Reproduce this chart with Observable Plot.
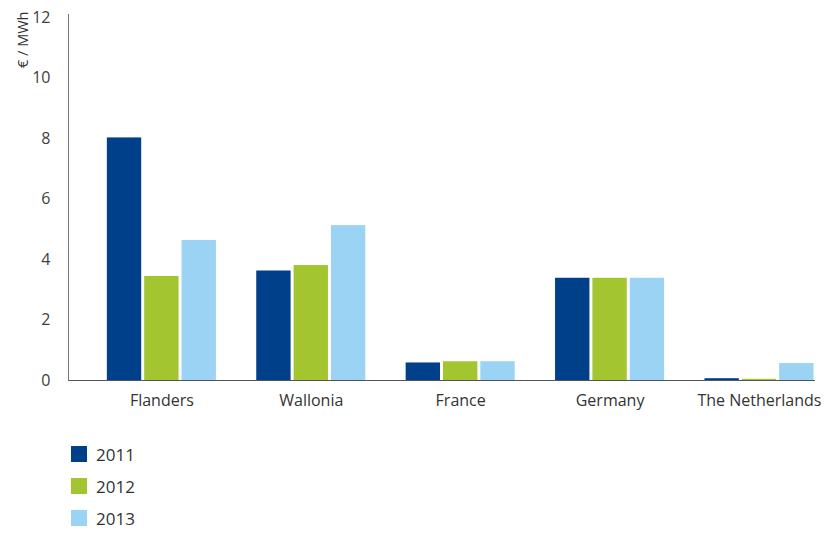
<!DOCTYPE html>
<html>
<head>
<meta charset="utf-8">
<script src="https://cdn.jsdelivr.net/npm/d3@7"></script>
<script src="https://cdn.jsdelivr.net/npm/@observablehq/plot@0.6"></script>
<style>
  body { margin: 0; background: #fff; font-family: "Open Sans", sans-serif; }
  #chart svg { display: block; }
  .legend { margin-top: 13px; padding-left: 71px; }
  .legend .row { display: flex; align-items: center; height: 32px; font-size: 17px; color: #333; }
  .legend .sw { width: 16px; height: 16px; margin-right: 9px; }
</style>
</head>
<body>
<div id="chart"></div>
<script>
const countries = ["Flanders", "Wallonia", "France", "Germany", "The Netherlands"];
const years = ["2011", "2012", "2013"];
const values2011 = [8.02, 3.62, 0.58, 3.38, 0.06];
const values2012 = [3.44, 3.80, 0.62, 3.38, 0.04];
const values2013 = [4.63, 5.12, 0.62, 3.38, 0.56];
const yTicks = [0, 2, 4, 6, 8, 10, 12];
const colors = ["#003f8a", "#a2c530", "#9bd3f4"];
const yLabel = "€ / MWh";

const seriesValues = [values2011, values2012, values2013];
const data = [];
countries.forEach((c, i) => {
  years.forEach((y, j) => {
    data.push({country: c, year: y, slot: c + "|" + y, value: seriesValues[j][i]});
  });
});
// one empty slot before each group gives the gap between groups
const slots = countries.flatMap(c => [c + "|gap", ...years.map(y => c + "|" + y)]);

const chart = Plot.plot({
  width: 825,
  height: 425,
  marginLeft: 68,
  marginRight: 10,
  marginTop: 14,
  marginBottom: 45,
  style: {fontFamily: "'Open Sans', sans-serif", color: "#404040", background: "#fff"},
  x: {type: "band", domain: slots, paddingInner: 0.08, paddingOuter: 0.04, round: false},
  y: {domain: [0, 12.1]},
  color: {domain: years, range: colors},
  marks: [
    Plot.barY(data, {x: "slot", y: "value", fill: "year"}),
    Plot.ruleY([0], {stroke: "#555", strokeWidth: 1.2}),
    Plot.frame({anchor: "left", stroke: "#777"}),
    Plot.axisY({ticks: yTicks, tickSize: 0, tickPadding: 18, label: null, fontSize: 16, fill: "#404040"}),
    Plot.axisX({
      ticks: countries.map(c => c + "|2012"),
      tickFormat: d => d.split("|")[0],
      tickSize: 0, tickPadding: 14, label: null, fontSize: 16, fill: "#333"
    }),
    Plot.text([yLabel], {frameAnchor: "top-left", rotate: -90, textAnchor: "end", dx: -51, dy: -3, fontSize: 14.5, fill: "#333"})
  ]
});
document.getElementById("chart").appendChild(chart);

const legend = document.createElement("div");
legend.className = "legend";
years.forEach((y, j) => {
  const row = document.createElement("div");
  row.className = "row";
  const sw = document.createElement("span");
  sw.className = "sw";
  sw.style.background = colors[j];
  row.appendChild(sw);
  row.appendChild(document.createTextNode(y));
  legend.appendChild(row);
});
document.getElementById("chart").appendChild(legend);
</script>
</body>
</html>
